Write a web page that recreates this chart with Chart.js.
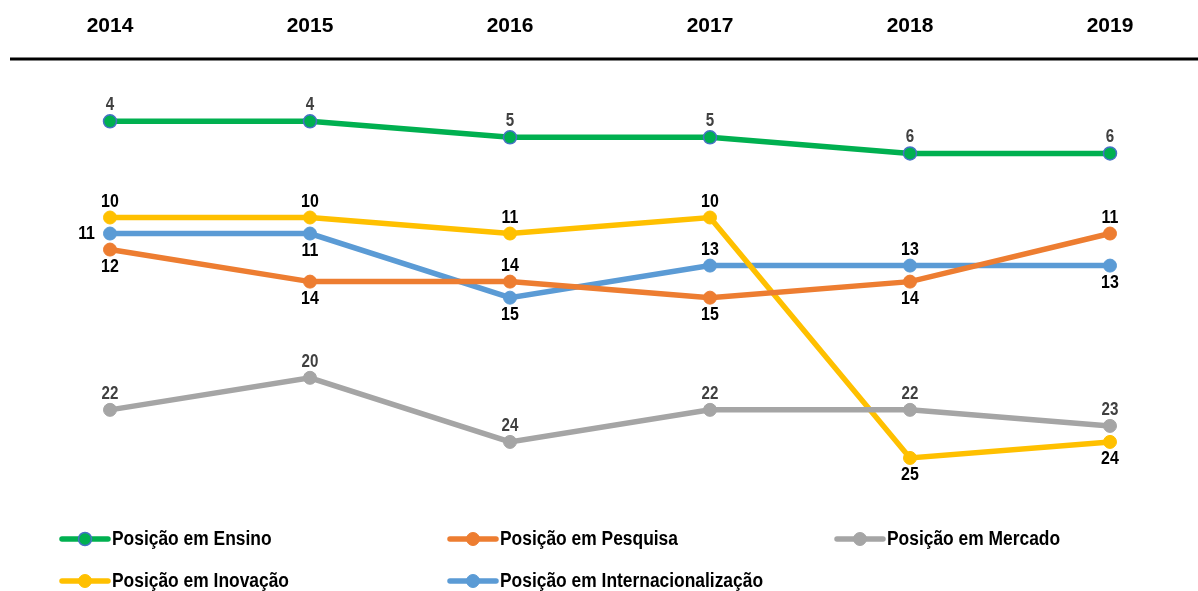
<!DOCTYPE html>
<html>
<head>
<meta charset="utf-8">
<script src="https://cdn.jsdelivr.net/npm/chart.js@4/dist/chart.umd.min.js"></script>
<style>
  html, body { margin: 0; padding: 0; background: #fff; }
  #wrap { position: relative; width: 1198px; height: 591px; }
</style>
</head>
<body>
<div id="wrap"><canvas id="c"></canvas></div>
<script>
const years = ['2014', '2015', '2016', '2017', '2018', '2019'];
const ensino = [4, 4, 5, 5, 6, 6];
const pesquisa = [12, 14, 14, 15, 14, 11];
const mercado = [22, 20, 24, 22, 22, 23];
const inovacao = [10, 10, 11, 10, 25, 24];
const internacionalizacao = [11, 11, 15, 13, 13, 13];

const FONT = "'Liberation Sans', Arial, sans-serif";

// label placement: a = above, b = below, l = left
const placement = [
  ['a', 'a', 'a', 'a', 'a', 'a'],
  ['b', 'b', 'a', 'b', 'b', 'a'],
  ['a', 'a', 'a', 'a', 'a', 'a'],
  ['a', 'a', 'a', 'a', 'b', 'b'],
  ['l', 'b', 'b', 'a', 'a', 'b']
];
const labelColors = ['#404040', '#000000', '#404040', '#000000', '#000000'];

function ds(label, data, color, pointBorder) {
  return {
    label, data,
    borderColor: color,
    backgroundColor: color,
    borderWidth: 5.5,
    pointRadius: 6.5,
    pointHoverRadius: 6.5,
    pointBackgroundColor: color,
    pointBorderColor: pointBorder || color,
    pointBorderWidth: pointBorder ? 1.5 : 1,
    tension: 0,
    clip: false
  };
}

function narrowText(ctx, text, x, y, align, sx) {
  ctx.save();
  ctx.translate(x, y);
  ctx.scale(sx, 1);
  ctx.textAlign = align;
  ctx.textBaseline = 'middle';
  ctx.fillText(text, 0, 0);
  ctx.restore();
}

const ruleLine = {
  id: 'ruleLine',
  beforeDatasetsDraw(chart) {
    const ctx = chart.ctx;
    ctx.save();
    ctx.strokeStyle = '#000';
    ctx.lineWidth = 3;
    ctx.beginPath();
    ctx.moveTo(10, 59);
    ctx.lineTo(chart.width, 59);
    ctx.stroke();
    ctx.restore();
  }
};

const dataLabels = {
  id: 'dataLabels',
  afterDatasetsDraw(chart) {
    const ctx = chart.ctx;
    ctx.save();
    chart.data.datasets.forEach((d, di) => {
      const meta = chart.getDatasetMeta(di);
      ctx.fillStyle = labelColors[di];
      ctx.font = 'bold ' + (labelColors[di] === '#404040' ? 18 : 19) + 'px ' + FONT;
      meta.data.forEach((pt, i) => {
        const p = placement[di][i];
        let x = pt.x, y = pt.y, align = 'center';
        if (p === 'a') y -= 16;
        else if (p === 'b') y += 17;
        else { align = 'right'; x -= 15; }
        narrowText(ctx, String(d.data[i]), x, y, align, 0.84);
      });
    });
    ctx.restore();
  }
};

const customLegend = {
  id: 'customLegend',
  afterDraw(chart) {
    const ctx = chart.ctx;
    const cols = [60, 448, 835];
    const rows = [539, 581];
    ctx.save();
    chart.data.datasets.forEach((d, i) => {
      const x = cols[i % 3];
      const y = rows[Math.floor(i / 3)];
      ctx.strokeStyle = d.borderColor;
      ctx.lineWidth = 5.5;
      ctx.lineCap = 'round';
      ctx.beginPath();
      ctx.moveTo(x + 2, y);
      ctx.lineTo(x + 48, y);
      ctx.stroke();
      ctx.beginPath();
      ctx.arc(x + 25, y, 6.5, 0, Math.PI * 2);
      ctx.fillStyle = d.pointBackgroundColor;
      ctx.fill();
      ctx.lineWidth = d.pointBorderWidth;
      ctx.strokeStyle = d.pointBorderColor;
      ctx.stroke();
      ctx.fillStyle = '#000';
      ctx.font = 'bold 20px ' + FONT;
      narrowText(ctx, d.label, x + 52, y, 'left', 0.87);
    });
    ctx.restore();
  }
};

new Chart(document.getElementById('c'), {
  type: 'line',
  data: {
    labels: years,
    datasets: [
      ds('Posição em Ensino', ensino, '#00B050', '#4472C4'),
      ds('Posição em Pesquisa', pesquisa, '#ED7D31'),
      ds('Posição em Mercado', mercado, '#A5A5A5'),
      ds('Posição em Inovação', inovacao, '#FFC000'),
      ds('Posição em Internacionalização', internacionalizacao, '#5B9BD5')
    ]
  },
  options: {
    responsive: true,
    maintainAspectRatio: false,
    animation: false,
    layout: { padding: { left: 110, right: 88, top: 6, bottom: 101 } },
    plugins: {
      legend: { display: false },
      tooltip: { enabled: false },
      title: { display: false }
    },
    scales: {
      x: {
        type: 'category',
        position: 'top',
        offset: false,
        grid: { display: false, drawTicks: false },
        border: { display: false },
        ticks: { color: '#000', padding: 8, font: { family: FONT, size: 21, weight: 'bold' }, maxRotation: 0, autoSkip: false }
      },
      y: {
        display: false,
        reverse: true,
        min: -0.625,
        max: 27
      }
    }
  },
  plugins: [ruleLine, dataLabels, customLegend]
});
</script>
</body>
</html>
